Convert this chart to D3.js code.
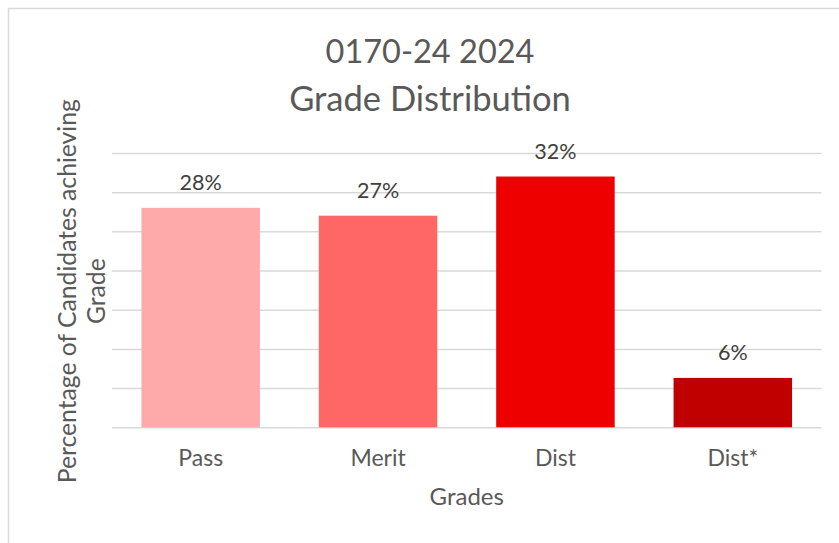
<!DOCTYPE html>
<html>
<head>
<meta charset="utf-8">
<script src="https://cdn.jsdelivr.net/npm/d3@7"></script>
<style>
  html, body { margin: 0; padding: 0; background: #fff; }
  svg { display: block; font-family: Lato, "Open Sans", sans-serif; }
</style>
</head>
<body>
<svg id="chart" width="839" height="543"></svg>
<script>
// ---- data ----
const categories = ["Pass", "Merit", "Dist", "Dist*"];
const values = [28, 27, 32, 6.3];
const valueLabels = ["28%", "27%", "32%", "6%"];
const colors = ["#FFAAAA", "#FF6666", "#EE0000", "#C00000"];
const gridTicks = [0, 5, 10, 15, 20, 25, 30, 35];
const titleLines = ["0170-24 2024", "Grade Distribution"];
const yTitleLines = ["Percentage of Candidates achieving", "Grade"];
const xTitle = "Grades";

const svg = d3.select("#chart");
const textColor = "#595959";

// border
svg.append("rect")
  .attr("x", 8.5).attr("y", 8.5)
  .attr("width", 900).attr("height", 600)
  .attr("fill", "none").attr("stroke", "#d9d9d9").attr("stroke-width", 1.5);

const plot = { left: 112, right: 821.5, top: 153, bottom: 427.3 };

const x = d3.scaleBand()
  .domain(categories)
  .range([plot.left, plot.right])
  .paddingInner(0.332)
  .paddingOuter(0.166);

const y = d3.scaleLinear()
  .domain([0, 35])
  .range([plot.bottom, plot.top]);

// gridlines
const yGrid = d3.axisLeft(y).tickValues(gridTicks)
  .tickSize(-(plot.right - plot.left)).tickFormat("");
const g = svg.append("g")
  .attr("transform", `translate(${plot.left},0)`)
  .call(yGrid);
g.select(".domain").remove();
g.selectAll(".tick line").attr("stroke", "#d9d9d9").attr("stroke-width", 1.5);

// bars
const data = categories.map((c, i) => ({ c, v: values[i], label: valueLabels[i], color: colors[i] }));
svg.append("g").selectAll("rect")
  .data(data).join("rect")
  .attr("x", d => x(d.c))
  .attr("y", d => y(d.v))
  .attr("width", x.bandwidth())
  .attr("height", d => y(0) - y(d.v))
  .attr("fill", d => d.color);

// data labels
svg.append("g").selectAll("text")
  .data(data).join("text")
  .attr("x", d => x(d.c) + x.bandwidth() / 2)
  .attr("y", d => y(d.v) - 17.5)
  .attr("text-anchor", "middle")
  .attr("fill", "#404040")
  .attr("font-size", 21.5)
  .text(d => d.label);

// x axis labels
const xAxis = d3.axisBottom(x).tickSize(0).tickPadding(0);
const xa = svg.append("g")
  .attr("transform", `translate(0,${plot.bottom})`)
  .call(xAxis);
xa.select(".domain").remove();
xa.selectAll(".tick text")
  .attr("dy", null)
  .attr("y", 39)
  .attr("fill", textColor)
  .attr("font-size", 23)
  .attr("font-family", "Lato, 'Open Sans', sans-serif");

// x title
svg.append("text")
  .attr("x", (plot.left + plot.right) / 2 + 0)
  .attr("y", 505)
  .attr("text-anchor", "middle")
  .attr("fill", textColor)
  .attr("font-size", 24)
  .text(xTitle);

// chart title
svg.append("g").selectAll("text")
  .data(titleLines).join("text")
  .attr("x", 430)
  .attr("y", (d, i) => 63 + i * 48)
  .attr("text-anchor", "middle")
  .attr("fill", textColor)
  .attr("font-size", (d, i) => i === 0 ? 32.5 : 34.5)
  .text(d => d);

// y title (rotated)
const yCenter = (plot.top + plot.bottom) / 2;
svg.append("g").selectAll("text")
  .data(yTitleLines).join("text")
  .attr("transform", (d, i) => `translate(${i === 0 ? 76 : 105},${yCenter + 1}) rotate(-90)`)
  .attr("text-anchor", "middle")
  .attr("fill", textColor)
  .attr("font-size", 24.7)
  .text(d => d);
</script>
</body>
</html>
